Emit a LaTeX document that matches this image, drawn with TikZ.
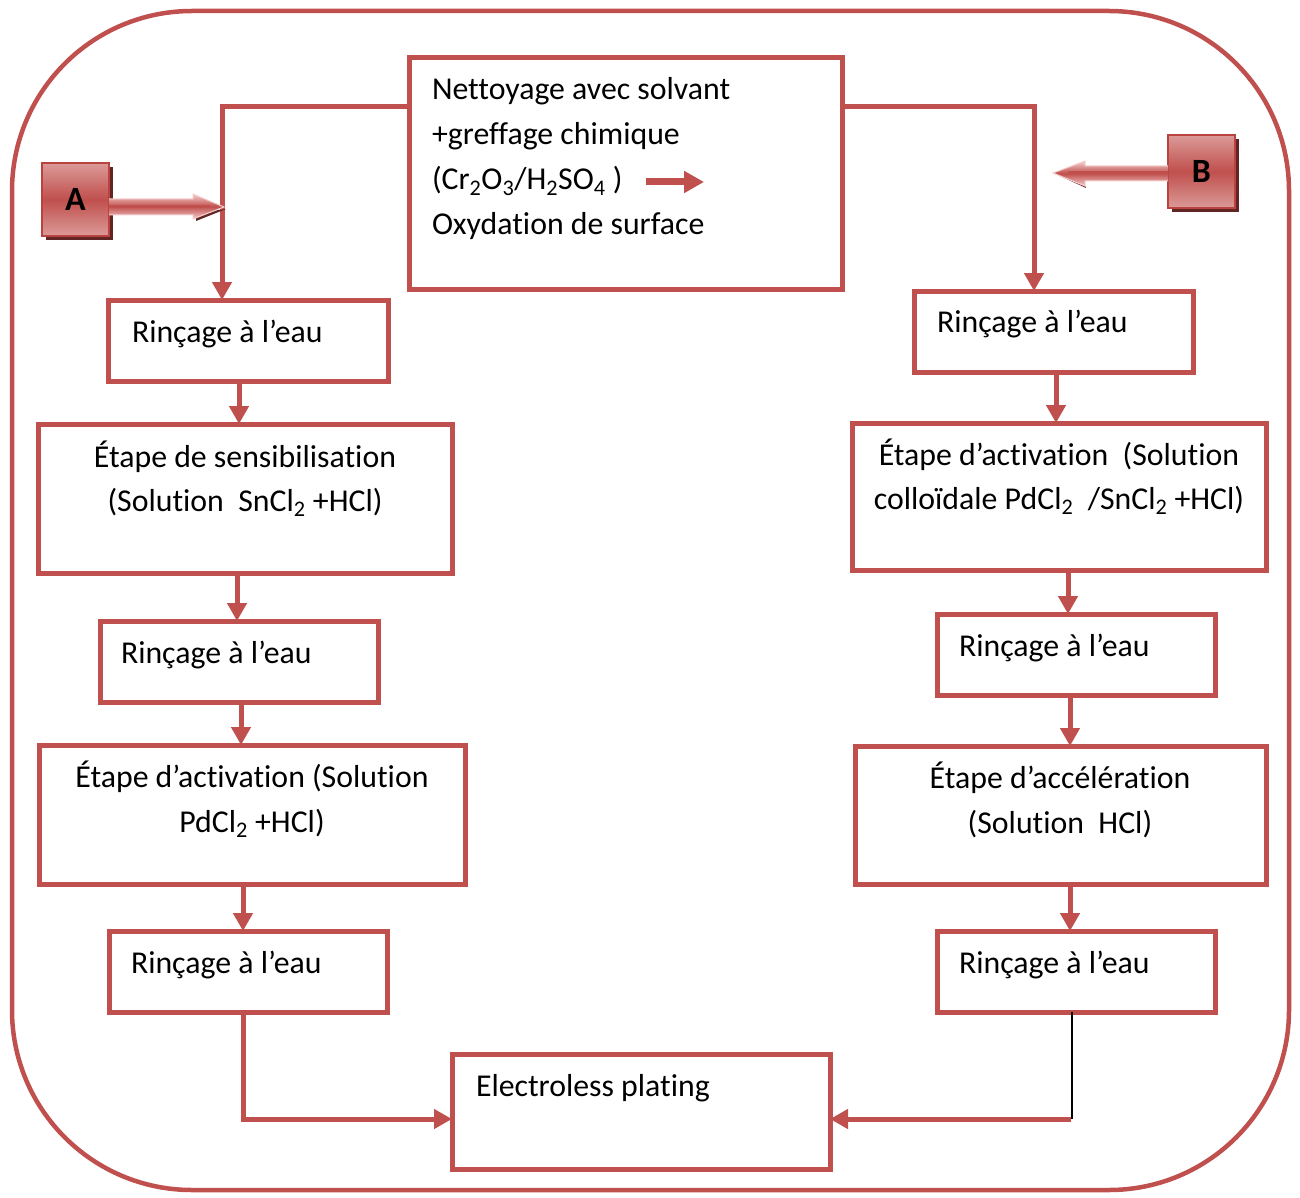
\documentclass[tikz,border=0pt]{standalone}
\usepackage{fontspec}
\setmainfont{Carlito}[Ligatures={NoCommon}]
\usetikzlibrary{arrows.meta,calc}
\definecolor{red2}{HTML}{C0504D}
\definecolor{shadowred}{HTML}{632523}
\definecolor{lightred}{HTML}{DB9A98}
\definecolor{palered}{HTML}{F4CFCE}
\definecolor{edgered}{HTML}{B9433F}
\tikzset{
  box/.style={draw=red2,line width=5pt,outer sep=0pt,inner sep=0pt,anchor=north west,fill=white},
  txt/.style={inner sep=0pt,outer sep=0pt,anchor=base west,font=\fontsize{31.8}{38}\selectfont},
  ctxt/.style={txt,anchor=base},
  conn/.style={draw=red2,line width=5pt},
  arr/.style={conn,-{Triangle[length=18pt,width=19pt]}},
  letterbox/.style={draw=edgered,line width=1.2pt,outer sep=0pt,inner sep=0pt,anchor=north west,
     minimum width=67pt,minimum height=73pt,font=\fontsize{34}{40}\selectfont\bfseries},
}
\begin{document}
\begin{tikzpicture}[x=1pt,y=-1pt]
\useasboundingbox (0,0) rectangle (1300,1198);
% outer frame
\draw[red2,line width=4.5pt,rounded corners=180pt] (12,11) rectangle (1289,1190);

% boxes
\node[box,minimum width=433pt,minimum height=231pt] (TB) at (409,58) {};
\node[box,minimum width=280pt,minimum height=81pt] (L1) at (108,300) {};
\node[box,minimum width=414pt,minimum height=149pt] (L2) at (38,424) {};
\node[box,minimum width=278pt,minimum height=81pt] (L3) at (100,621) {};
\node[box,minimum width=426pt,minimum height=139pt] (L4) at (39,745) {};
\node[box,minimum width=278pt,minimum height=81pt] (L5) at (109,931) {};
\node[box,minimum width=279pt,minimum height=81pt] (R1) at (914,291) {};
\node[box,minimum width=414pt,minimum height=147pt] (R2) at (852,423) {};
\node[box,minimum width=278pt,minimum height=81pt] (R3) at (937,614) {};
\node[box,minimum width=411pt,minimum height=138pt] (R4) at (855,746) {};
\node[box,minimum width=278pt,minimum height=81pt] (R5) at (937,931) {};
\node[box,minimum width=378pt,minimum height=115pt] (E) at (452,1054) {};

% texts
\node[txt] (t1) at (432,100) {Nettoyage avec solvant};
\node[txt] (t2) at (432,145) {+greffage chimique};
\node[txt] (t3) at (432,190) {(Cr\textsubscript{2}O\textsubscript{3}/H\textsubscript{2}SO\textsubscript{4} )};
\node[txt] (t4) at (432,235) {Oxydation de surface};
\node[txt] (tl1) at (132,342) {Rinçage à l’eau};
\node[ctxt] (tl2a) at (245,467) {Étape de sensibilisation};
\node[ctxt] (tl2b) at (245,511) {(Solution\ \ SnCl\textsubscript{2} +HCl)};
\node[txt] (tl3) at (121,663) {Rinçage à l’eau};
\node[ctxt] (tl4a) at (252,787) {Étape d’activation (Solution};
\node[ctxt] (tl4b) at (252,832) {PdCl\textsubscript{2} +HCl)};
\node[txt] (tl5) at (131,973) {Rinçage à l’eau};
\node[txt] (tr1) at (937,332) {Rinçage à l’eau};
\node[ctxt] (tr2a) at (1059,465) {Étape d’activation\ \ (Solution};
\node[ctxt] (tr2b) at (1059,509) {colloïdale PdCl\textsubscript{2}\ \ /SnCl\textsubscript{2} +HCl)};
\node[txt] (tr3) at (959,656) {Rinçage à l’eau};
\node[ctxt] (tr4a) at (1060,788) {Étape d’accélération};
\node[ctxt] (tr4b) at (1060,833) {(Solution\ \ HCl)};
\node[txt] (tr5) at (959,973) {Rinçage à l’eau};
\node[txt] (te) at (476,1096) {Electroless plating};

% small arrow inside the top box
\coordinate (sa1) at (646,182);
\coordinate (sa2) at (704,182);
\draw[draw=red2,line width=7pt,-{Triangle[length=20pt,width=21pt]}] (sa1) -- (sa2);

% connectors from the top box
\coordinate (cL) at (222,107);
\coordinate (cR) at (1034,107);
\draw[arr] (TB.west |- cL) -- (cL) -- (cL |- L1.north);
\draw[arr] (TB.east |- cR) -- (cR) -- (cR |- R1.north);

% left column
\draw[arr] (L1.south -| 239,0) -- (L2.north -| 239,0);
\draw[arr] (L2.south -| 237,0) -- (L3.north -| 237,0);
\draw[arr] (L3.south -| 241,0) -- (L4.north -| 241,0);
\draw[arr] (L4.south -| 243,0) -- (L5.north -| 243,0);
\coordinate (bL) at (243,1119);
\draw[arr] (L5.south -| bL) -- (bL) -- (E.west |- bL);

% right column
\draw[arr] (R1.south -| 1056,0) -- (R2.north -| 1056,0);
\draw[arr] (R2.south -| 1068,0) -- (R3.north -| 1068,0);
\draw[arr] (R3.south -| 1070,0) -- (R4.north -| 1070,0);
\draw[arr] (R4.south -| 1070,0) -- (R5.north -| 1070,0);
\coordinate (bR) at (1072,1119);
\draw[black,line width=1.5pt] (R5.south -| bR) -- (bR);
\draw[arr] ([xshift=-0.75pt]bR) -- (E.east |- bR);

% A box and its arrow
\fill[shadowred] (46,167) rectangle (113,240);
\node[letterbox] (A) at (42,163) {};
\shade[top color=lightred,bottom color=lightred,middle color=red2] (A.north west) rectangle (A.south east);
\draw[edgered,line width=1.2pt] (A.north west) rectangle (A.south east);
\node[font=\fontsize{34}{40}\selectfont\bfseries,inner sep=0pt] (Atxt) at (A.center) {A};
\fill[shadowred] (196,213) -- (226,209) -- (196,221) -- cycle;
\shade[top color=palered,bottom color=palered,middle color=red2]
  (A.east |- 0,199) -- (193,199) -- (193,194) -- (224,207) -- (193,219) -- (193,215) -- (A.east |- 0,215) -- cycle;
\draw[palered,line width=1pt] (A.east |- 0,199) -- (193,199) -- (193,194) -- (224,207) -- (193,219) -- (193,215) -- (A.east |- 0,215);
\draw[red2,line width=3pt] (A.east |- 0,207) -- (210,207);

% B box and its arrow
\fill[shadowred] (1172,139) rectangle (1239,212);
\node[letterbox] (B) at (1168,135) {};
\shade[top color=lightred,bottom color=lightred,middle color=red2] (B.north west) rectangle (B.south east);
\draw[edgered,line width=1.2pt] (B.north west) rectangle (B.south east);
\node[font=\fontsize{34}{40}\selectfont\bfseries,inner sep=0pt] (Btxt) at (B.center) {B};
\fill[shadowred] (1083,180) -- (1060,176) -- (1086,188) -- cycle;
\shade[top color=palered,bottom color=palered,middle color=red2]
  (B.west |- 0,166) -- (1085,166) -- (1085,161) -- (1053,173) -- (1085,186) -- (1085,181) -- (B.west |- 0,181) -- cycle;
\draw[palered,line width=1pt] (B.west |- 0,166) -- (1085,166) -- (1085,161) -- (1053,173) -- (1085,186) -- (1085,181) -- (B.west |- 0,181);
\draw[red2,line width=3pt] (B.west |- 0,173) -- (1068,173);
\end{tikzpicture}
\end{document}
